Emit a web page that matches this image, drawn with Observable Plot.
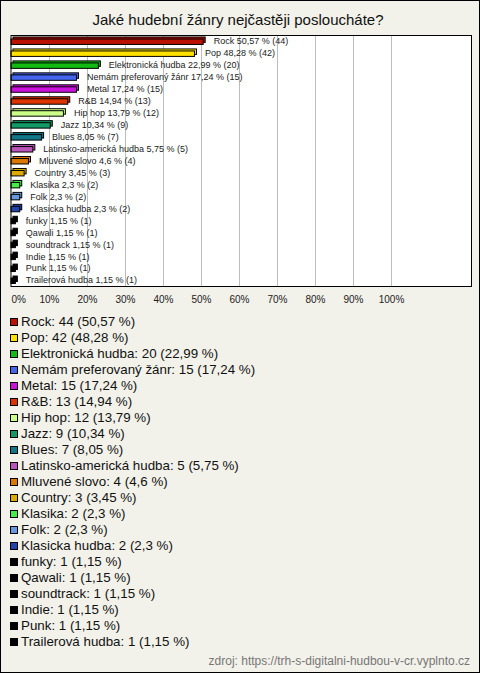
<!DOCTYPE html>
<html>
<head>
<meta charset="utf-8">
<script src="https://cdn.jsdelivr.net/npm/d3@7"></script>
<script src="https://cdn.jsdelivr.net/npm/@observablehq/plot@0.6"></script>
<style>
  html, body { margin: 0; padding: 0; }
  body { width: 480px; height: 673px; position: relative; overflow: hidden; font-family: "Liberation Sans", Arial, sans-serif; }
  #frame { position: absolute; left: 0; top: 0; width: 480px; height: 673px; box-sizing: border-box; border: 1px solid #000; background: #f2f1ea; }
  #title { position: absolute; left: 0; top: 11px; width: 476px; text-align: center; font-size: 15px; color: #111; line-height: 18px; }
  #chart { position: absolute; left: 0; top: 30px; }
  #legend { position: absolute; left: 10px; top: 314px; font-size: 13.33px; line-height: 16px; color: #111; }
  #legend .row { white-space: nowrap; }
  #legend .sw { display: inline-block; width: 6px; height: 6px; border: 1px solid #000; margin-right: 3px; vertical-align: 0px; }
  #caption { position: absolute; right: 10px; top: 654px; font-size: 12px; color: #777; }
</style>
</head>
<body>
<div id="frame"></div>
<div id="title">Jaké hudební žánry nejčastěji posloucháte?</div>
<div id="chart"></div>
<div id="legend"></div>
<div id="caption">zdroj: https://trh-s-digitalni-hudbou-v-cr.vyplnto.cz</div>
<script>
const genres = ["Rock","Pop","Elektronická hudba","Nemám preferovaný žánr","Metal","R&B","Hip hop","Jazz","Blues","Latinsko-americká hudba","Mluvené slovo","Country","Klasika","Folk","Klasicka hudba","funky","Qawali","soundtrack","Indie","Punk","Trailerová hudba"];
const counts = [44,42,20,15,15,13,12,9,7,5,4,3,2,2,2,1,1,1,1,1,1];
const percents = [50.57,48.28,22.99,17.24,17.24,14.94,13.79,10.34,8.05,5.75,4.6,3.45,2.3,2.3,2.3,1.15,1.15,1.15,1.15,1.15,1.15];
const palette = ["#bb1100","#ffe100","#11bb11","#4466ee","#cc11dd","#dd3300","#ccff88","#119966","#117788","#bb55bb","#dd7700","#ddaa00","#44ee44","#6699dd","#2244aa","#000000","#000000","#000000","#000000","#000000","#000000"];
const tickValues = [0,10,20,30,40,50,60,70,80,90,100];

const fmt = v => String(v).replace(".", ",");
const data = genres.map((g, i) => ({name: g, count: counts[i], pct: percents[i], color: palette[i]}));

const chart = Plot.plot({
  width: 480,
  height: 280,
  marginLeft: 10.5,
  marginRight: 9,
  marginTop: 5,
  marginBottom: 24,
  style: {background: "transparent", fontFamily: "Liberation Sans, Arial, sans-serif"},
  x: {domain: [0, 100], range: [11, 391], label: null},
  y: {domain: genres, range: [5, 256], padding: 0, round: false, axis: null},
  marks: [
    Plot.frame({fill: "white", stroke: "none"}),
    Plot.ruleX(tickValues.slice(1), {x: d => d, stroke: "#bdbdbd", strokeWidth: 1}),
    Plot.barX(data, {x: "pct", y: "name", fill: "color", stroke: "#000", strokeWidth: 1, insetTop: 4, insetBottom: 2.5, dx: 2, dy: -2}),
    Plot.barX(data, {x: "pct", y: "name", fill: "color", stroke: "#000", strokeWidth: 1, insetTop: 4, insetBottom: 2.5}),
    Plot.text(data, {x: "pct", y: "name", text: d => `${d.name} ${fmt(d.pct)} % (${d.count})`, dx: 10, textAnchor: "start", fontSize: 9, fill: "#222"}),
    Plot.frame({stroke: "#000", strokeWidth: 1}),
    Plot.axisX(tickValues.slice(1), {tickSize: 0, tickPadding: 9, fontSize: 10, tickFormat: d => d + "%", fill: "#222", label: null}),
    Plot.axisX([0], {tickSize: 0, tickPadding: 9, fontSize: 10, tickFormat: d => d + "%", textAnchor: "start", fill: "#222", label: null})
  ]
});
document.getElementById("chart").appendChild(chart);

const legend = document.getElementById("legend");
data.forEach(d => {
  const row = document.createElement("div");
  row.className = "row";
  const sw = document.createElement("span");
  sw.className = "sw";
  sw.style.background = d.color;
  row.appendChild(sw);
  row.appendChild(document.createTextNode(`${d.name}: ${d.count} (${fmt(d.pct)} %)`));
  legend.appendChild(row);
});
</script>
</body>
</html>
